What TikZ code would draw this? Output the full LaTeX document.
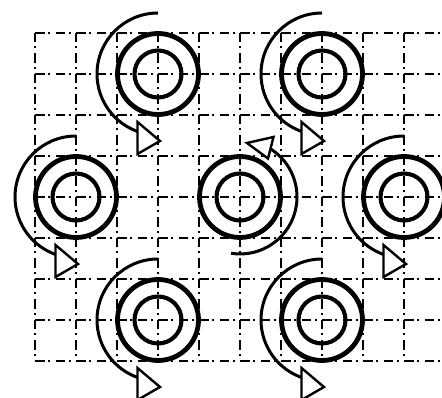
\documentclass[tikz,border=0pt]{standalone}
\begin{document}
\begin{tikzpicture}[x=1pt,y=1pt,
  gridline/.style={line width=1.6pt, dash pattern=on 9.5pt off 3.8pt on 1.8pt off 5.4pt, black},
  ringline/.style={line width=4.8pt},
  innerline/.style={line width=4.1pt},
  turnline/.style={line width=3pt},
  headline/.style={line width=2.4pt, fill=white, line join=miter},
  spinring/.pic={
    \draw[turnline] (90:61) arc[start angle=90,end angle=252,radius=61];
    \draw[headline] (-20.5,-48) -- (2,-67) -- (-20.5,-80) -- cycle;
    \draw[ringline] (0,0) circle[radius=40.5];
    \draw[innerline] (0,0) circle[radius=23.5];
  },
  plainring/.pic={
    \draw[ringline] (0,0) circle[radius=40.5];
    \draw[innerline] (0,0) circle[radius=23.5];
  }]
\useasboundingbox (0,0) rectangle (442,398);
\clip (0,0) rectangle (442,398);
% grid
\foreach \k in {0,...,8} {
  \draw[gridline] (35,365-41*\k) -- (450,365-41*\k);
}
\foreach \k in {0,...,9} {
  \draw[gridline] (35+41*\k,365) -- (35+41*\k,37);
}
% ring centres
\coordinate (ta) at (158,324);
\coordinate (tb) at (322,324);
\coordinate (ma) at (76,201);
\coordinate (mb) at (240,201);
\coordinate (mc) at (404,201);
\coordinate (ba) at (158,78);
\coordinate (bb) at (322,78);
\pic at (ta) {spinring};
\pic at (tb) {spinring};
\pic at (ma) {spinring};
\pic at (mc) {spinring};
\pic at (ba) {spinring};
\pic at (bb) {spinring};
\pic at (mb) {plainring};
\begin{scope}[shift={(mb)}]
  \draw[turnline] (261:57) arc[start angle=261,end angle=420,radius=57];
  \draw[headline] (33.5,60) -- (7,54) -- (28,38.5) -- cycle;
\end{scope}
\end{tikzpicture}
\end{document}
